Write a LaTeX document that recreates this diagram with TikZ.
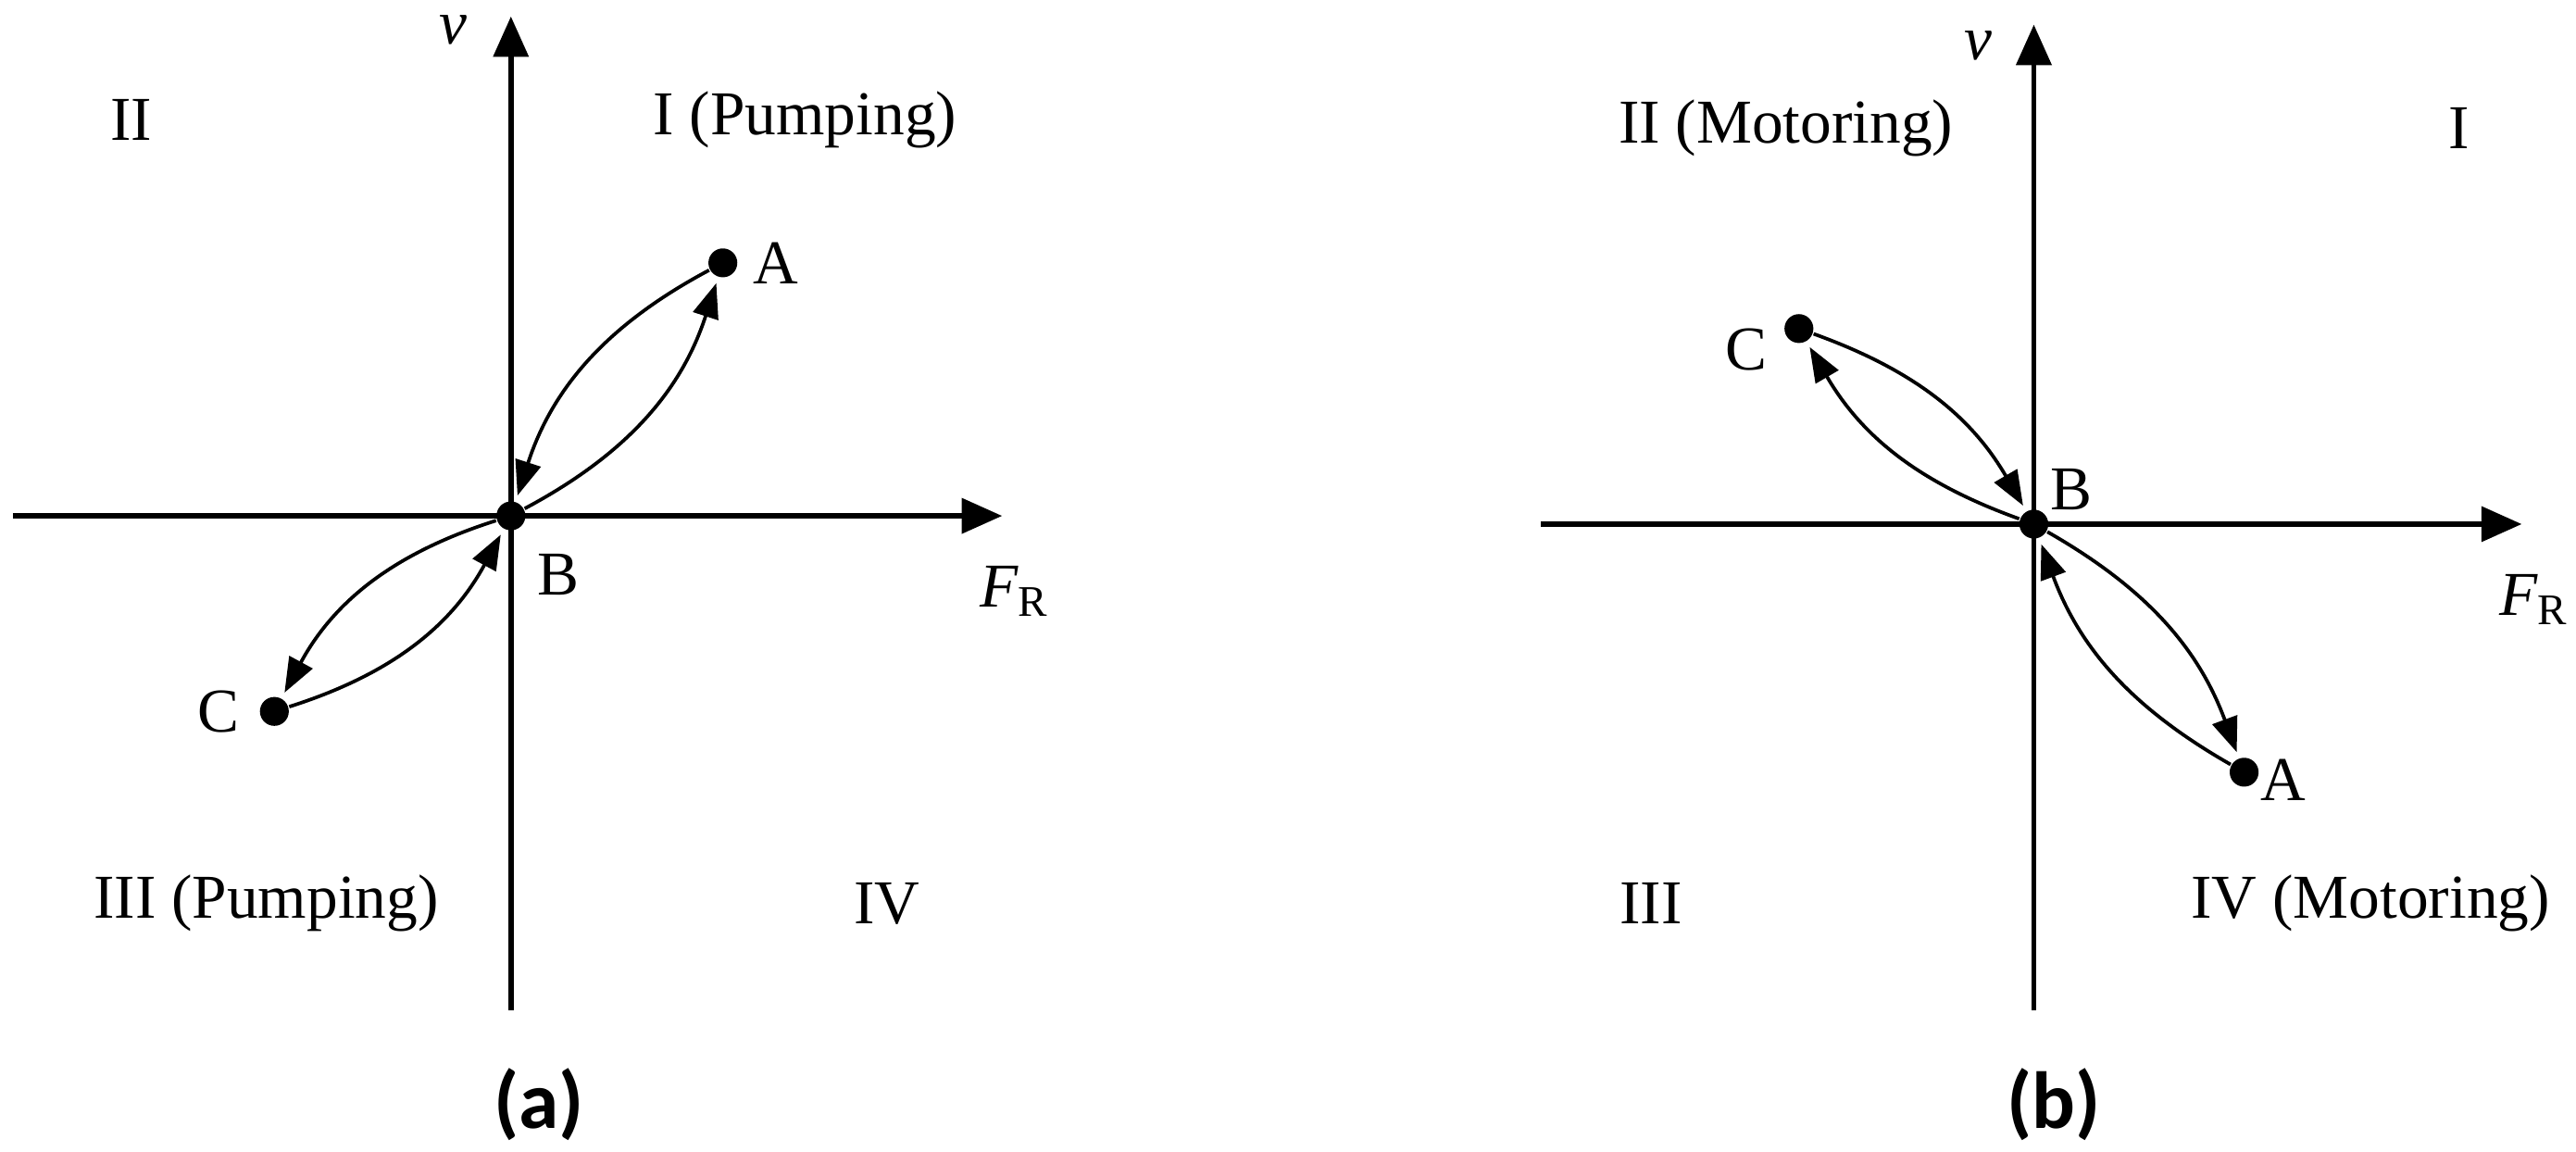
\documentclass[tikz,border=0pt]{standalone}
\usepackage{fontspec}
\setmainfont{Liberation Serif}
\newfontfamily\capfont{Carlito}
\usetikzlibrary{arrows.meta}
\begin{document}
\begin{tikzpicture}[x=0.01cm,y=-0.01cm,
  ax/.style={line width=0.9pt,-{Triangle[length=7pt,width=6pt]}},
  cv/.style={line width=0.6pt,-{Triangle[length=6pt,width=4.5pt]},shorten >=1pt},
  dot/.style={circle,fill=black,inner sep=0pt,minimum size=5pt},
  lab/.style={font=\fontsize{10.8}{13}\selectfont},
  captxt/.style={font=\capfont\bfseries\fontsize{14}{16}\selectfont}]
\useasboundingbox (0,0) rectangle (1568,701);
% panel a
\coordinate (a0) at (311,615); \coordinate (a1) at (311,10);
\coordinate (a2) at (8,314); \coordinate (a3) at (610,314);
\draw[ax] (a0) -- (a1);
\draw[ax] (a2) -- (a3);
\node[dot] (aB) at (311,314) {};
\node[dot] (aA) at (440,160) {};
\node[dot] (aC) at (167,433) {};
\draw[cv] (aA) to[bend right=22] (aB);
\draw[cv] (aB) to[bend right=22] (aA);
\draw[cv] (aB) to[bend right=22] (aC);
\draw[cv] (aC) to[bend right=22] (aB);
\node[lab] (vl) at (276,18) {\itshape v};
\node[lab] (fl) at (618,360) {\itshape F\textsubscript{\upshape R}};
\node[lab] (bl) at (340,350) {B};
\node[lab] (al) at (472,160) {A};
\node[lab] (cl) at (133,433) {C};
\node[lab] (q2) at (80,73) {II};
\node[lab] (q1) at (490,73) {I (Pumping)};
\node[lab] (q3) at (162,550) {III (Pumping)};
\node[lab] (q4) at (540,550) {IV};
\node[captxt] (ca) at (328,672) {(a)};
% panel b
\coordinate (b0) at (1238,615); \coordinate (b1) at (1238,15);
\coordinate (b2) at (938,319); \coordinate (b3) at (1535,319);
\draw[ax] (b0) -- (b1);
\draw[ax] (b2) -- (b3);
\node[dot] (bB) at (1238,319) {};
\node[dot] (bC) at (1095,200) {};
\node[dot] (bA) at (1366,470) {};
\draw[cv] (bC) to[bend left=20] (bB);
\draw[cv] (bB) to[bend left=20] (bC);
\draw[cv] (bB) to[bend left=20] (bA);
\draw[cv] (bA) to[bend left=20] (bB);
\node[lab] (vl2) at (1204,28) {\itshape v};
\node[lab] (fl2) at (1543,365) {\itshape F\textsubscript{\upshape R}};
\node[lab] (bl2) at (1261,298) {B};
\node[lab] (cl2) at (1063,213) {C};
\node[lab] (al2) at (1390,475) {A};
\node[lab] (r2) at (1087,78) {II (Motoring)};
\node[lab] (r1) at (1497,78) {I};
\node[lab] (r3) at (1005,550) {III};
\node[lab] (r4) at (1443,550) {IV (Motoring)};
\node[captxt] (cb) at (1250,672) {(b)};
\end{tikzpicture}
\end{document}
